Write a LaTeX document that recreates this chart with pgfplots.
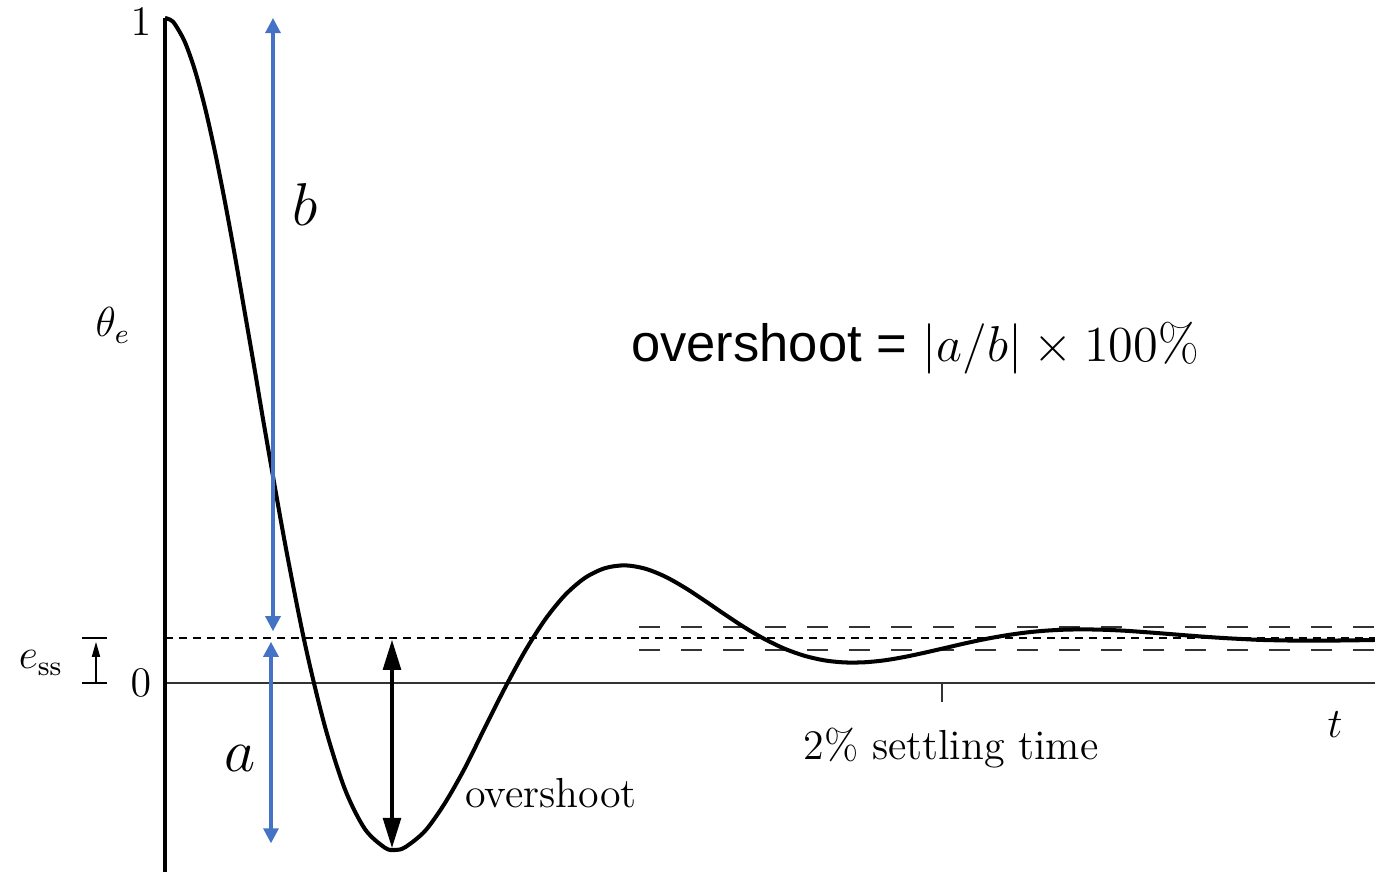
\documentclass[border=0pt]{standalone}
\usepackage{pgfplots}
\pgfplotsset{compat=1.18}
\usetikzlibrary{arrows.meta}
\usepackage{fontspec}
\newfontfamily\arialfont{Liberation Sans}
\definecolor{ppblue}{HTML}{4472C4}

\begin{document}
\begin{tikzpicture}[font=\fontsize{12}{14}\selectfont]
\begin{axis}[
    x=28.57pt, y=190pt,
    xmin=0, xmax=12.1, ymin=-0.2842, ymax=1,
    enlargelimits=false, hide axis, clip=false, scale only axis,
]
    % picture frame (page size)
    \coordinate (bl) at (axis cs:-1.65,-0.2842);
    \coordinate (tr) at (axis cs:12.1,1.0271);

    % axes
    \draw[line width=0.5pt, black!80] (axis cs:0,0) -- (axis cs:12.1,0);
    \draw[line width=0.5pt, black!80] (axis cs:7.77,0) -- (axis cs:7.77,-0.028);
    \draw[line width=1pt] (axis cs:0,-0.2842) -- (axis cs:0,1);

    % steady-state error and 2% band
    \addplot[black, line width=0.5pt, dash pattern=on 2.3pt off 1.7pt] coordinates {(0,0.068) (12.1,0.068)};
    \addplot[black!80, line width=0.6pt, dash pattern=on 6pt off 6pt] coordinates {(4.74,0.0847) (12.1,0.0847)};
    \addplot[black!80, line width=0.6pt, dash pattern=on 6pt off 6pt] coordinates {(4.74,0.0496) (12.1,0.0496)};

    % response
    \addplot[black, line width=1.15pt, smooth] coordinates {
        (0,1.000) (0.05,0.9976) (0.1,0.9906) (0.2,0.9635) (0.3,0.9210)
        (0.4,0.8653) (0.5,0.7986) (0.6,0.7232) (0.7,0.6416) (0.8,0.5554)
        (0.9,0.4685) (1.0,0.3798) (1.2,0.2102) (1.4,0.0587) (1.6,-0.0656)
        (1.8,-0.1599) (2.0,-0.2197) (2.2,-0.2477) (2.3,-0.2510) (2.4,-0.2470)
        (2.6,-0.2225) (2.8,-0.1803) (3.0,-0.1274) (3.2,-0.0666) (3.4,-0.0071)
        (3.6,0.0480) (3.8,0.0953) (4.0,0.1323) (4.2,0.1582) (4.4,0.1728)
        (4.6,0.1770) (4.8,0.1721) (5.0,0.1602) (5.2,0.1433) (5.4,0.1236)
        (5.6,0.1030) (5.8,0.0833) (6.0,0.0658) (6.2,0.0514) (6.4,0.0408)
        (6.6,0.0340) (6.8,0.0310) (7.0,0.0313) (7.2,0.0343) (7.4,0.0394)
        (7.6,0.0458) (7.8,0.0527) (8.0,0.0597) (8.2,0.0661) (8.4,0.0715)
        (8.6,0.0758) (8.8,0.0787) (9.0,0.0803) (9.2,0.0807) (9.4,0.0801)
        (9.6,0.0787) (9.8,0.0766) (10.0,0.0743) (10.2,0.0719) (10.4,0.0696)
        (10.6,0.0676) (10.8,0.0660) (11.0,0.0647) (11.4,0.0637) (11.8,0.0641)
        (12.1,0.0648)
    };

    % e_ss marker
    \draw[line width=0.5pt] (axis cs:-0.83,0.068) -- (axis cs:-0.58,0.068);
    \draw[line width=0.5pt] (axis cs:-0.83,0) -- (axis cs:-0.58,0);
    \draw[line width=0.5pt, -{Triangle[length=4.3pt,width=2.3pt]}] (axis cs:-0.69,0) -- (axis cs:-0.69,0.062);

    % a and b arrows
    \draw[ppblue, line width=0.9pt, {Triangle[length=4.3pt,width=4.3pt]}-{Triangle[length=4.3pt,width=4.3pt]}]
        (axis cs:1.08,0.078) -- (axis cs:1.08,1.0);
    \draw[ppblue, line width=0.9pt, {Triangle[length=4.3pt,width=4.3pt]}-{Triangle[length=4.3pt,width=4.3pt]}]
        (axis cs:1.06,-0.241) -- (axis cs:1.06,0.062);

    % overshoot arrow
    \draw[black, line width=0.9pt, {Triangle[length=8.6pt,width=5.1pt]}-{Triangle[length=8.6pt,width=5.1pt]}]
        (axis cs:2.27,-0.248) -- (axis cs:2.27,0.065);

    % labels
    \node at (axis cs:-0.24,0.994) {$1$};
    \node at (axis cs:-0.24,0) {$0$};
    \node at (axis cs:-0.52,0.538) {$\theta_e$};
    \node at (axis cs:-1.24,0.030) {$e_{\mathrm{ss}}$};
    \node at (axis cs:11.70,-0.063) {$t$};
    \node at (axis cs:3.86,-0.165) {overshoot};
    \node at (axis cs:7.86,-0.098) {2\% settling time};
    \node[font=\fontsize{16}{19}\selectfont] at (axis cs:1.40,0.719) {$b$};
    \node[font=\fontsize{16}{19}\selectfont] at (axis cs:0.75,-0.113) {$a$};
    \node[font=\fontsize{15}{18}\selectfont] at (axis cs:7.50,0.504)
        {{\arialfont overshoot =} $|a/b| \times 100\%$};
\end{axis}
\pgfresetboundingbox
\path[use as bounding box] (bl) rectangle (tr);
\end{tikzpicture}
\end{document}
